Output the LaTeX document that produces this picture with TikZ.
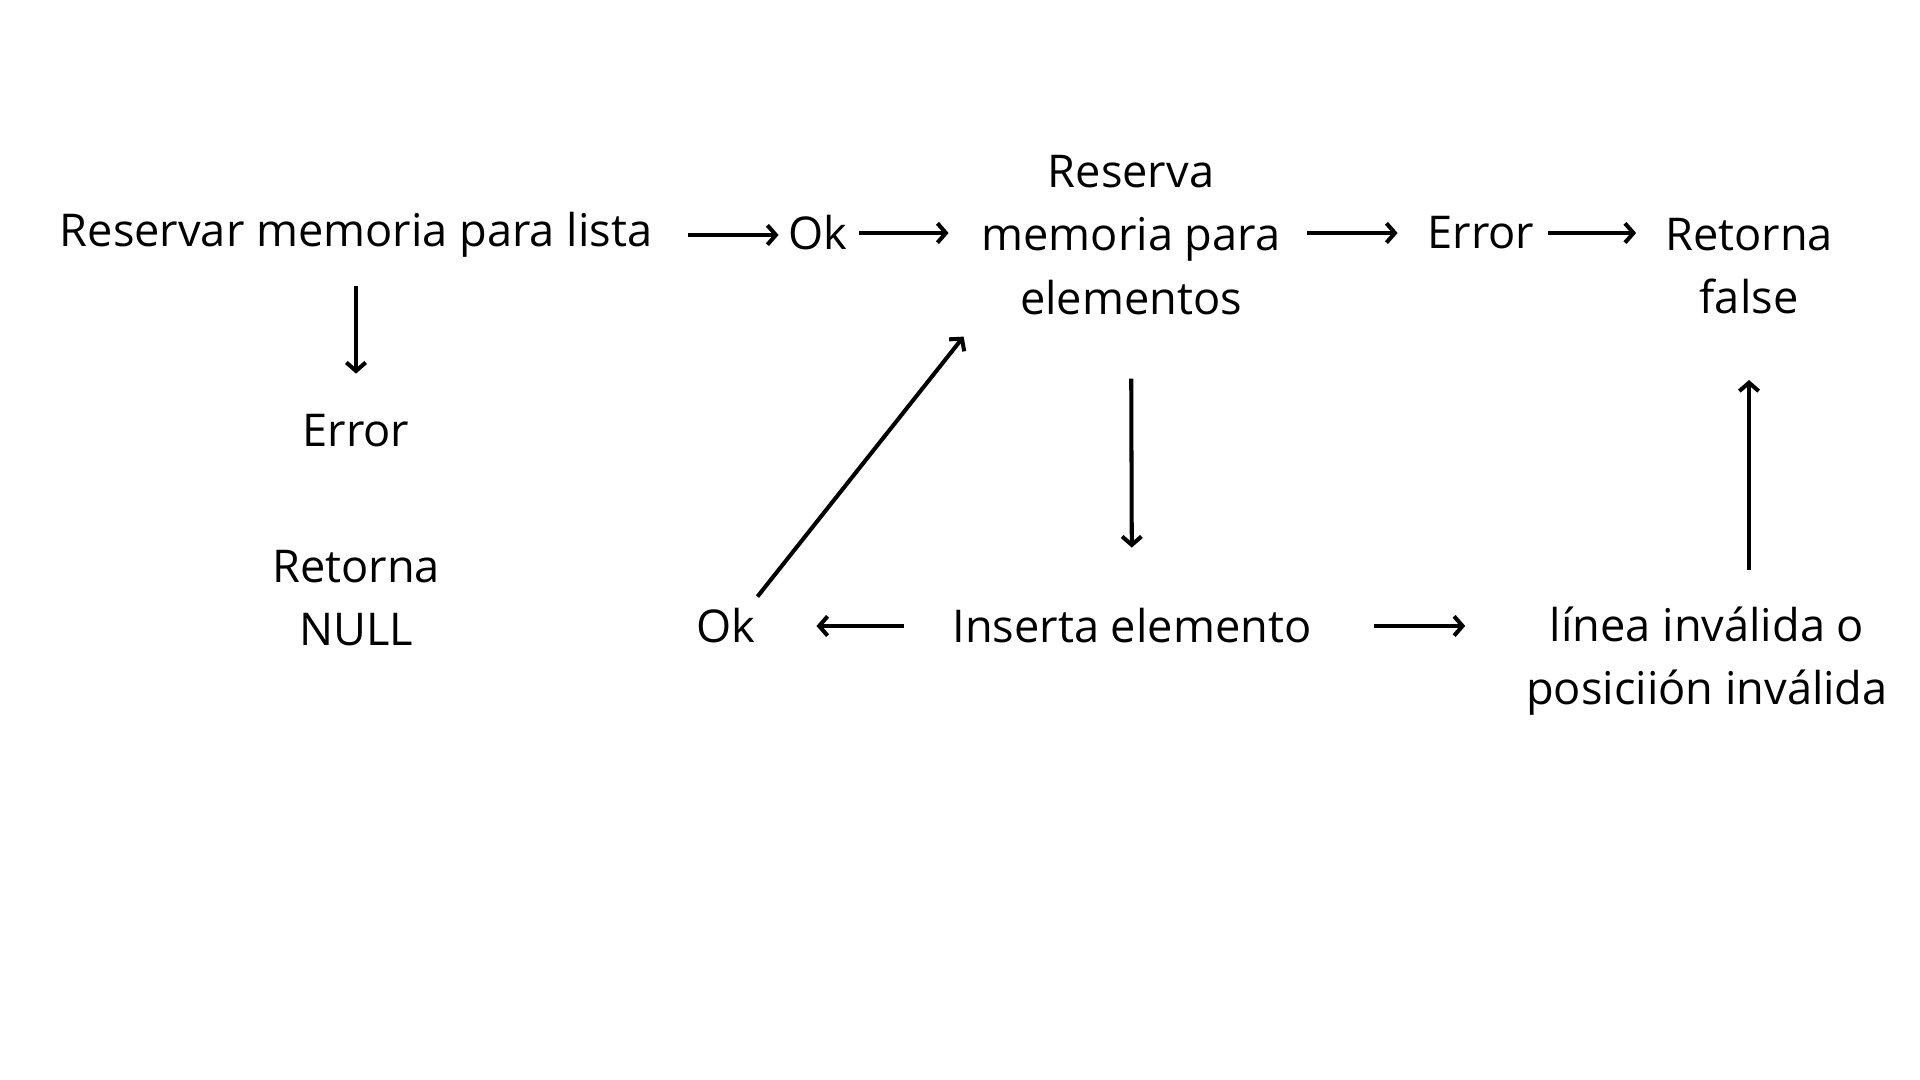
\documentclass[tikz,border=0pt]{standalone}
\usepackage{fontspec}
\setmainfont{Open Sans}
\usetikzlibrary{arrows.meta}

\begin{document}
\begin{tikzpicture}
    [>={Straight Barb[length=2.4pt,width=5.5pt]},line width=1.15pt,
     every node/.style={align=center,inner sep=0pt,
       font=\fontsize{12.85pt}{18pt}\selectfont}]
\useasboundingbox (0,0) rectangle (19.2,-10.8);

% first row
\path
    (3.56,-2.35) node (lista) {Reservar memoria para lista}
    (8.18,-2.33) node (ok1) {Ok}
    (11.31,-2.35) node (reserva) {Reserva\\ memoria para\\ elementos}
    (14.81,-2.33) node (err1) {Error}
    (17.49,-2.66) node (falso) {Retorna\\ false};

% left column
\path
    (3.56,-4.31) node (err0) {Error}
    (3.56,-5.98) node (null) {Retorna\\ NULL};

% second row
\path
    (7.26,-6.26) node (ok2) {Ok}
    (11.32,-6.26) node (inserta) {Inserta elemento}
    (17.07,-6.61) node (linea) {línea inválida o\\ posiciión inválida};

\draw [->,shorten <=0.34cm,shorten >=0.08cm] (lista.east) -- (lista -| ok1.west);
\draw [->,shorten <=0.10cm,shorten >=0.31cm] (ok1.east) -- (ok1 -| reserva.west);
\draw [->,shorten <=0.25cm,shorten >=0.28cm] (err1 -| reserva.east) -- (err1.west);
\draw [->,shorten <=0.12cm,shorten >=0.27cm] (err1.east) -- (err1 -| falso.west);
\draw [->,shorten <=0.26cm,shorten >=0.39cm] (lista.south) -- (err0.north);
\draw [->,shorten <=0.62cm,shorten >=0.59cm] (reserva.south) -- (inserta.north);
\draw [->,shorten <=0.47cm,shorten >=0.59cm] (inserta.west) -- (ok2.east);
\draw [->,shorten <=0.61cm,shorten >=0.59cm] (inserta.east) -- (inserta -| linea.west);
\draw [->,shorten <=0.35cm,shorten >=0.64cm] (linea.north -| falso.south) -- (falso.south);
\draw [->] ([shift={(0,0.1)}]ok2.north east)
    -- ([shift={(-0.16,-0.20)}]reserva.south west);
\end{tikzpicture}
\end{document}
